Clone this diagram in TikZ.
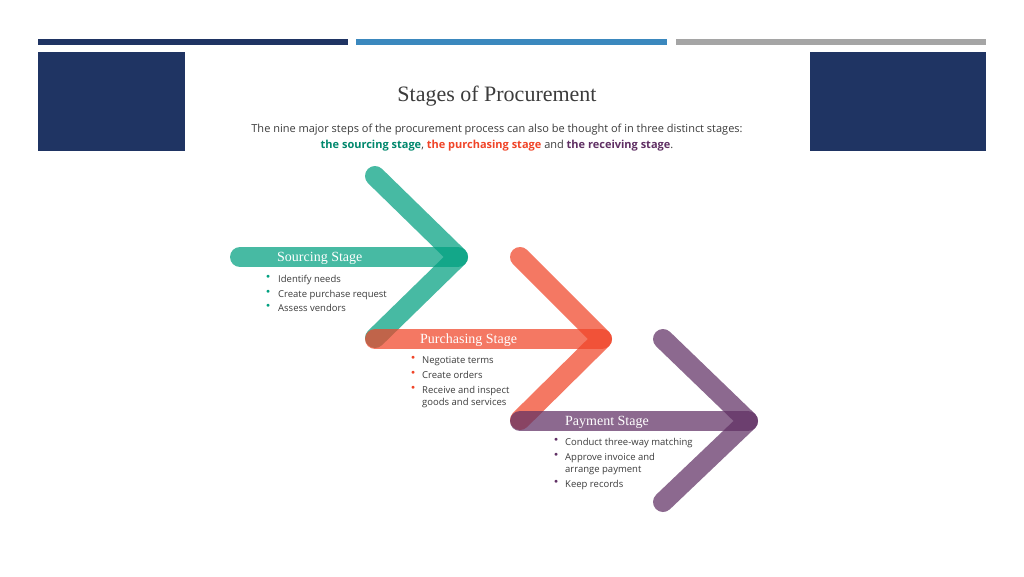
\documentclass[tikz,border=0pt]{standalone}
\usepackage{fontspec}
\setmainfont{Liberation Serif}
\newfontfamily\osans{Open Sans}
\definecolor{navy}{RGB}{31,52,99}
\definecolor{midblue}{RGB}{59,136,190}
\definecolor{greybar}{RGB}{165,165,165}
\definecolor{tealc}{RGB}{0,160,128}
\definecolor{redc}{RGB}{240,68,40}
\definecolor{purc}{RGB}{96,48,100}
\definecolor{txt}{RGB}{60,60,60}
\begin{document}
\begin{tikzpicture}[x=1pt,y=-1pt,
  band/.style={line width=20pt,line cap=round,line join=round,draw opacity=0.72},
  stagelbl/.style={anchor=west,text=white,font=\fontsize{14}{14}\selectfont,inner sep=0pt},
  item/.style={anchor=north west,text=txt,font=\osans\fontsize{9.5}{12}\selectfont,inner sep=0pt,align=left},
  dot/.style={anchor=north west,inner sep=0pt,font=\fontsize{7}{12}\selectfont}]
\useasboundingbox (0,0) rectangle (1024,576);
\fill[white] (0,0) rectangle (1024,576);
\fill[navy] (38,39) rectangle (348,45);
\fill[midblue] (356,39) rectangle (667,45);
\fill[greybar] (676,39) rectangle (986,45);
\fill[navy] (38,52) rectangle (185,151);
\fill[navy] (810,52) rectangle (986,151);
\node[font=\fontsize{22}{22}\selectfont,text=txt] (title) at (497,96) {Stages of Procurement};
\node[font=\osans\fontsize{11}{11}\selectfont,text=txt] (sub) at (497,130) {The nine major steps of the procurement process can also be thought of in three distinct stages:};
\node[font=\osans\bfseries\fontsize{11}{11}\selectfont] (sub2) at (497,146) {\textcolor{tealc!85!black}{the sourcing stage}\textcolor{txt}{\mdseries ,} \textcolor{redc}{the purchasing stage} \textcolor{txt}{\mdseries and} \textcolor{purc}{the receiving stage}\textcolor{txt}{\mdseries .}};
% arrows
\coordinate (t0) at (240,257); \coordinate (tt) at (458,257);
\coordinate (ta) at (375,176); \coordinate (tb) at (375,338);
\draw[band,tealc] (t0) -- (tt);
\draw[band,tealc] (ta) -- (tt) -- (tb);
\coordinate (r0) at (375,339); \coordinate (rt) at (602,339);
\coordinate (ra) at (520,257); \coordinate (rb) at (520,420);
\draw[band,redc] (r0) -- (rt);
\draw[band,redc] (ra) -- (rt) -- (rb);
\coordinate (p0) at (520,421); \coordinate (pt) at (748,421);
\coordinate (pa) at (663,339); \coordinate (pb) at (663,502);
\draw[band,purc] (p0) -- (pt);
\draw[band,purc] (pa) -- (pt) -- (pb);
\node[stagelbl] (s1) at (277,258) {Sourcing Stage};
\node[stagelbl] (s2) at (420,340) {Purchasing Stage};
\node[stagelbl] (s3) at (565,422) {Payment Stage};
\foreach \y/\t in {275/Identify needs,290/Create purchase request,304/Assess vendors}
  {\node[dot,text=tealc] at (266,\y) {$\bullet$}; \node[item] at (278,\y) {\t};}
\foreach \y/\t in {356/Negotiate terms,371/Create orders,386/{Receive and inspect\\goods and services}}
  {\node[dot,text=redc] at (411,\y) {$\bullet$}; \node[item] at (422,\y) {\t};}
\foreach \y/\t in {438/Conduct three-way matching,453/{Approve invoice and\\arrange payment},480/Keep records}
  {\node[dot,text=purc] at (554,\y) {$\bullet$}; \node[item] at (565,\y) {\t};}
\end{tikzpicture}
\end{document}
